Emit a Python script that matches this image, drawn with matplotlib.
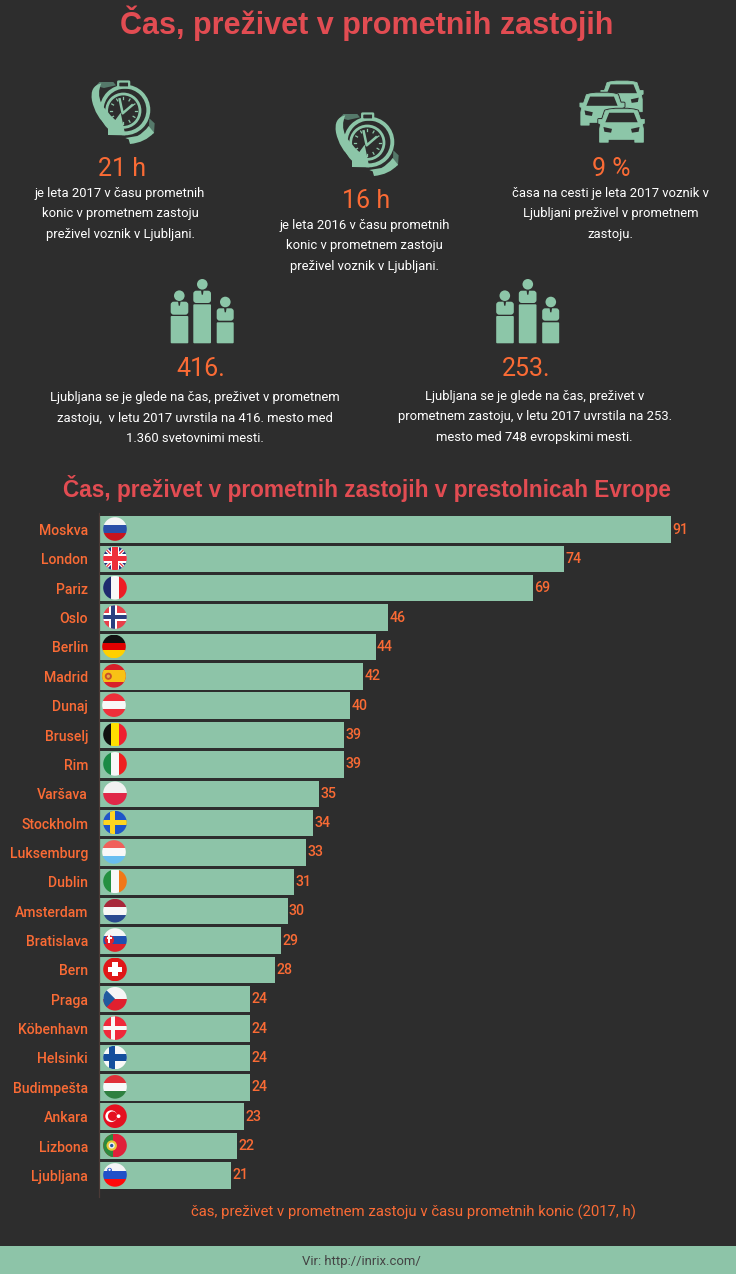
import numpy as np
import matplotlib
matplotlib.use("Agg")
import matplotlib.pyplot as plt
from matplotlib.patches import Rectangle, Circle, Polygon, FancyBboxPatch, PathPatch
from matplotlib.path import Path

cities = ["Moskva","London","Pariz","Oslo","Berlin","Madrid","Dunaj","Bruselj","Rim","Varšava","Stockholm",
          "Luksemburg","Dublin","Amsterdam","Bratislava","Bern","Praga","Köbenhavn","Helsinki","Budimpešta",
          "Ankara","Lizbona","Ljubljana"]
hours = [91,74,69,46,44,42,40,39,39,35,34,33,31,30,29,28,24,24,24,24,23,22,21]
flag_codes = ["ru","gb","fr","no","de","es","at","be","it","pl","se","lu","ie","nl","sk","ch","cz","dk","fi","hu","tr","pt","si"]

BG = "#2D2D2D"; GREEN = "#8DC4A8"; ORANGE = "#FA6B35"; RED = "#E24C52"; ICON = "#8CC6A8"; DARKG = "#55796A"
W, H = 736, 1274
plt.rcParams["font.family"] = ["Roboto", "DejaVu Sans"]
fig = plt.figure(figsize=(W/100, H/100), dpi=100, facecolor=BG)

# ---- bar chart
top, bottom, left = 513, 1197, 99.2
ax = fig.add_axes([left/W, 1-bottom/H, 1-left/W, (bottom-top)/H], facecolor="none")
pitch = 29.36
ax.set_ylim((bottom-529.5)/pitch, (top-529.5)/pitch)
ax.set_xlim(0, (W-left)/6.28)
y = np.arange(len(cities))
bars = ax.barh(y, hours, height=0.9, color=GREEN, linewidth=0)
ax.bar_label(bars, labels=[str(v) for v in hours], padding=1.0, color=ORANGE, fontsize=10.2, fontweight="medium")
ax.set_yticks(y, cities, color=ORANGE, fontsize=10.1, fontweight="medium")
ax.tick_params(axis="y", length=0, pad=8)
ax.set_xticks([])
for s in ["top","right","bottom"]:
    ax.spines[s].set_visible(False)
ax.spines["left"].set_color("#4A3A36"); ax.spines["left"].set_linewidth(0.9)

# ---- pixel overlay
ov = fig.add_axes([0,0,1,1], facecolor="none")
ov.set_xlim(0,W); ov.set_ylim(H,0); ov.axis("off")

def T(x, yy, s, size, color="white", **kw):
    ov.text(x, yy, s, fontsize=size, color=color, ha="center", va="center", **kw)

T(367, 23.5, "Čas, preživet v prometnih zastojih", 22.0, RED, family="Liberation Sans", fontweight="bold")
T(367, 489, "Čas, preživet v prometnih zastojih v prestolnicah Evrope", 16.3, RED, family="Liberation Sans", fontweight="bold")

blocks = [
 (122,169.5,"21 h",120,[193.7,213.7,234.7],["je leta 2017 v času prometnih","konic v prometnem zastoju","preživel voznik v Ljubljani."]),
 (366,201.5,"16 h",364.5,[225.7,245.7,266.7],["je leta 2016 v času prometnih","konic v prometnem zastoju","preživel voznik v Ljubljani."]),
 (611,169.5,"9 %",610.5,[193.7,213.7,234.7],["časa na cesti je leta 2017 voznik v","Ljubljani preživel v prometnem","zastoju."]),
 (200.5,369,"416.",195,[397.7,418.7,438.7],["Ljubljana se je glede na čas, preživet v prometnem","zastoju,  v letu 2017 uvrstila na 416. mesto med","1.360 svetovnimi mesti."]),
 (526,369,"253.",534.5,[396.7,416.7,437.7],["Ljubljana se je glede na čas, preživet v","prometnem zastoju, v letu 2017 uvrstila na 253.","mesto med 748 evropskimi mesti."]),
]
for nx, ny, num, tx, ys, lines in blocks:
    T(nx, ny, num, 18, ORANGE)
    for yy, l in zip(ys, lines):
        T(tx, yy, l, 9.4, "white")

T(413, 1212, "čas, preživet v prometnem zastoju v času prometnih konic (2017, h)", 10.75, ORANGE)
ov.add_patch(Rectangle((0,1246), W, 28, color=GREEN, lw=0))
T(361, 1261, "Vir: http://inrix.com/", 9.45, "#444444")

# ---- flags
def flag(code, cx, cy, r=11.8):
    clip = Circle((cx,cy), r, transform=ov.transData)
    L, Tp = cx-r, cy-r
    D = 2*r
    art = []
    def rect(x0,y0,x1,y1,c):
        art.append(Rectangle((L+x0*D, Tp+y0*D), (x1-x0)*D, (y1-y0)*D, color=c, lw=0))
    def hs(*cs):
        n=len(cs)
        for i,c in enumerate(cs): rect(0,i/n,1,(i+1)/n+0.01,c)
    def vs(*cs):
        n=len(cs)
        for i,c in enumerate(cs): rect(i/n,0,(i+1)/n+0.01,1,c)
    def cross(c, x=0.5, w=0.16):
        rect(0,0.5-w/2,1,0.5+w/2,c); rect(x-w/2,0,x+w/2,1,c)
    def circ(x,yy,rad,c):
        art.append(Circle((L+x*D,Tp+yy*D), rad*D, color=c, lw=0))
    def poly(pts,c):
        art.append(Polygon([(L+a*D,Tp+b*D) for a,b in pts], color=c, lw=0))
    if code=="ru": hs("#F5F5F5","#2A4FA8","#C8141E")
    elif code=="gb":
        rect(0,0,1,1,"#26307E")
        for a,b in [((0,1),(0,1)),((0,1),(1,0))]:
            art.append(plt.Line2D([L+a[0]*D,L+a[1]*D],[Tp+b[0]*D,Tp+b[1]*D],color="white",lw=2.6,zorder=1))
        for a,b in [((0,1),(0,1)),((0,1),(1,0))]:
            art.append(plt.Line2D([L+a[0]*D,L+a[1]*D],[Tp+b[0]*D,Tp+b[1]*D],color="#E8303A",lw=0.9,zorder=1))
        cross("white",w=0.36); cross("#EE2F3A",w=0.24)
    elif code=="fr": vs("#1E2A6E","#F8F8F8","#EE1C25")
    elif code=="no":
        rect(0,0,1,1,"#E8404A"); cross("white",x=0.42,w=0.32); cross("#2A3F80",x=0.42,w=0.17)
    elif code=="de": hs("#111111","#E00000","#FFD000")
    elif code=="es":
        rect(0,0,1,1,"#D8202A"); rect(0,0.25,1,0.75,"#F8C215")
        circ(0.26,0.52,0.15,"#C8502A"); circ(0.26,0.52,0.07,"#E8A840")
    elif code=="at": hs("#EE2F3A","#F8F8F8","#EE2F3A")
    elif code=="be": vs("#111111","#FFE000","#EE2030")
    elif code=="it": vs("#1A8A45","#F8F8F8","#EE2020")
    elif code=="pl":
        rect(0,0,1,0.5,"#F2F2F2"); rect(0,0.5,1,1,"#E02848")
    elif code=="se":
        rect(0,0,1,1,"#1F55C8"); cross("#FFD520",x=0.38,w=0.2)
    elif code=="lu": hs("#F0605A","#F8F8F8","#68BEF0")
    elif code=="ie": vs("#249040","#F8F8F8","#F07818")
    elif code=="nl": hs("#A8283A","#F8F8F8","#2A4A90")
    elif code=="sk":
        hs("#F5F5F5","#2050B0","#E0202A")
        circ(0.26,0.5,0.2,"#E0202A"); rect(0.22,0.28,0.3,0.62,"white"); rect(0.14,0.38,0.38,0.45,"white")
    elif code=="ch":
        rect(0,0,1,1,"#E01818"); rect(0.2,0.39,0.8,0.61,"white"); rect(0.39,0.2,0.61,0.8,"white")
    elif code=="cz":
        rect(0,0,1,0.5,"#F5F5F5"); rect(0,0.5,1,1,"#E0202E"); poly([(0,0),(0.5,0.5),(0,1)],"#1F5A9E")
    elif code=="dk":
        rect(0,0,1,1,"#F0283A"); cross("#F8F8F8",x=0.42,w=0.17)
    elif code=="fi":
        rect(0,0,1,1,"#F8F8F8"); cross("#144E9C",x=0.38,w=0.26)
    elif code=="hu": hs("#E03038","#F8F8F8","#2E8040")
    elif code=="tr":
        rect(0,0,1,1,"#E51020"); circ(0.34,0.5,0.25,"white"); circ(0.4,0.5,0.2,"#E51020"); circ(0.65,0.5,0.08,"white")
    elif code=="pt":
        rect(0,0,1,1,"#E0203A"); rect(0,0,0.4,1,"#2C8A3E")
        circ(0.36,0.5,0.22,"#E8C838"); circ(0.36,0.5,0.13,"#F0F0F0"); circ(0.36,0.5,0.07,"#2A5AA0")
    elif code=="si":
        hs("#F5F5F5","#2050C8","#FF0A0A"); circ(0.27,0.3,0.1,"#2050C8"); circ(0.27,0.28,0.05,"white")
    for a in art:
        if isinstance(a, plt.Line2D):
            ov.add_line(a)
        else:
            ov.add_patch(a)
        a.set_clip_path(clip)

ov_shift = {"de":-1,"es":-1,"at":-1,"lu":-1}
fig.canvas.draw()
for i, code in enumerate(flag_codes):
    py = H - ax.transData.transform((0,i))[1]
    flag(code, 115+ov_shift.get(code,0), py-0.5)

# ---- icons
def clock(ox, oy):
    def P(a,b): return (ox+a/3, oy+b/3)
    def patch(pts,c,z=3):
        ov.add_patch(Polygon([P(*p) for p in pts], closed=True, color=c, lw=0, zorder=z))
    def curved(segs,c,z=3):
        vs=[P(*segs[0])]; codes=[Path.MOVETO]
        for s in segs[1:]:
            if len(s)==2 and isinstance(s[0],tuple):
                vs+= [P(*s[0]),P(*s[1])]; codes+=[Path.CURVE3,Path.CURVE3]
            else:
                vs.append(P(*s)); codes.append(Path.LINETO)
        vs.append(vs[0]); codes.append(Path.CLOSEPOLY)
        ov.add_patch(PathPatch(Path(vs,codes),facecolor=c,lw=0,zorder=z))
    patch([(58,36),(100,36),(108,46),(72,54),(48,48)],DARKG,2)
    patch([(208,145),(224,160),(222,190),(206,196)],DARKG,2)
    ov.add_patch(Circle(P(135,120),70/3,fc="none",ec=ICON,lw=2.8,zorder=2))
    ov.add_patch(Circle(P(130,122),50/3,fc=BG,ec=ICON,lw=2.0,zorder=2))
    ov.add_patch(FancyBboxPatch(P(116,36),10,5,boxstyle="round,pad=0.5",fc=BG,ec=ICON,lw=1.6,zorder=2))
    for ang in np.deg2rad(np.arange(0,360,30)):
        a,b=130+40*np.cos(ang),122+40*np.sin(ang); c,d=130+34*np.cos(ang),122+34*np.sin(ang)
        ov.plot([P(a,b)[0],P(c,d)[0]],[P(a,b)[1],P(c,d)[1]],color=ICON,lw=0.9,zorder=2)
    ov.plot([P(119,88)[0],P(128,130)[0],P(156,106)[0]],[P(119,88)[1],P(128,130)[1],P(156,106)[1]],color=ICON,lw=1.8,zorder=2)
    curved([(64,40),((28,48),(36,92)),((46,140),(84,172)),(84,195),(136,196),(122,128),(106,150),
            ((78,125),(64,100)),((50,70),(64,40))],ICON)
    curved([(136,204),(172,198),((192,188),(206,168)),(222,188),((195,218),(150,222)),(146,208)],ICON)

def car(cx, ty, s=1.0, bg=BG):
    def P(u,v): return (cx+u*s, ty+v*s)
    verts=[P(-13,2),P(0,0),P(13,2),P(17,3),P(20,12),P(24,12),P(24,16),P(22,17),P(23,22),P(23,36),P(14,36),P(14,33),P(-14,33),P(-14,36),P(-23,36),P(-23,22),P(-22,17),P(-24,16),P(-24,12),P(-20,12),P(-17,3),P(-13,2),P(-13,2)]
    codes=[Path.MOVETO,Path.CURVE3,Path.CURVE3]+[Path.LINETO]*(len(verts)-4)+[Path.CLOSEPOLY]
    ov.add_patch(PathPatch(Path(verts,codes),fc=ICON,ec=bg,lw=2.0,joinstyle="round",zorder=2))
    ov.add_patch(PathPatch(Path(verts,codes),fc=ICON,ec=ICON,lw=0.6,joinstyle="round",zorder=2))
    for pts in ([(-13,5),(13,5),(17,15),(-17,15)],[(-19,20),(-10,22),(-11,26),(-18,25)],[(19,20),(10,22),(11,26),(18,25)]):
        ov.add_patch(Polygon([P(*p) for p in pts],closed=True,fc=bg,lw=0,zorder=2))

def people(ox):
    d = ox-170.5
    for x0,x1,ptop,bt,bb,hx,hy in [(170.7,188.3,316,301.7,312.7,179.3,295.7),
                                   (193.3,211,304.3,290.7,301,202.3,284.3),
                                   (216.7,233.7,322.3,308.3,318.7,225.3,302)]:
        ov.add_patch(FancyBboxPatch((x0+d+1,ptop+1),x1-x0-2,343.3-ptop-2,boxstyle="round,pad=1",fc=ICON,lw=0))
        ov.add_patch(Circle((hx+d,hy),5.3,fc=ICON,lw=0))
        ov.add_patch(FancyBboxPatch((x0+d+3,bt+3),x1-x0-6,bb-bt-4,boxstyle="round,pad=3",fc=ICON,lw=0))
        ov.add_patch(Polygon([(hx+d-1.3,bt-0.5),(hx+d+1.3,bt-0.5),(hx+d+0.6,bt+4),(hx+d-0.6,bt+4)],fc=BG,lw=0))

clock(80,70)
clock(324,102)
car(622,80,0.88)
car(602,92,0.92)
car(621.5,108,0.95)
people(170.5)
people(496)

fig.savefig("out.png", dpi=100, facecolor=BG)
